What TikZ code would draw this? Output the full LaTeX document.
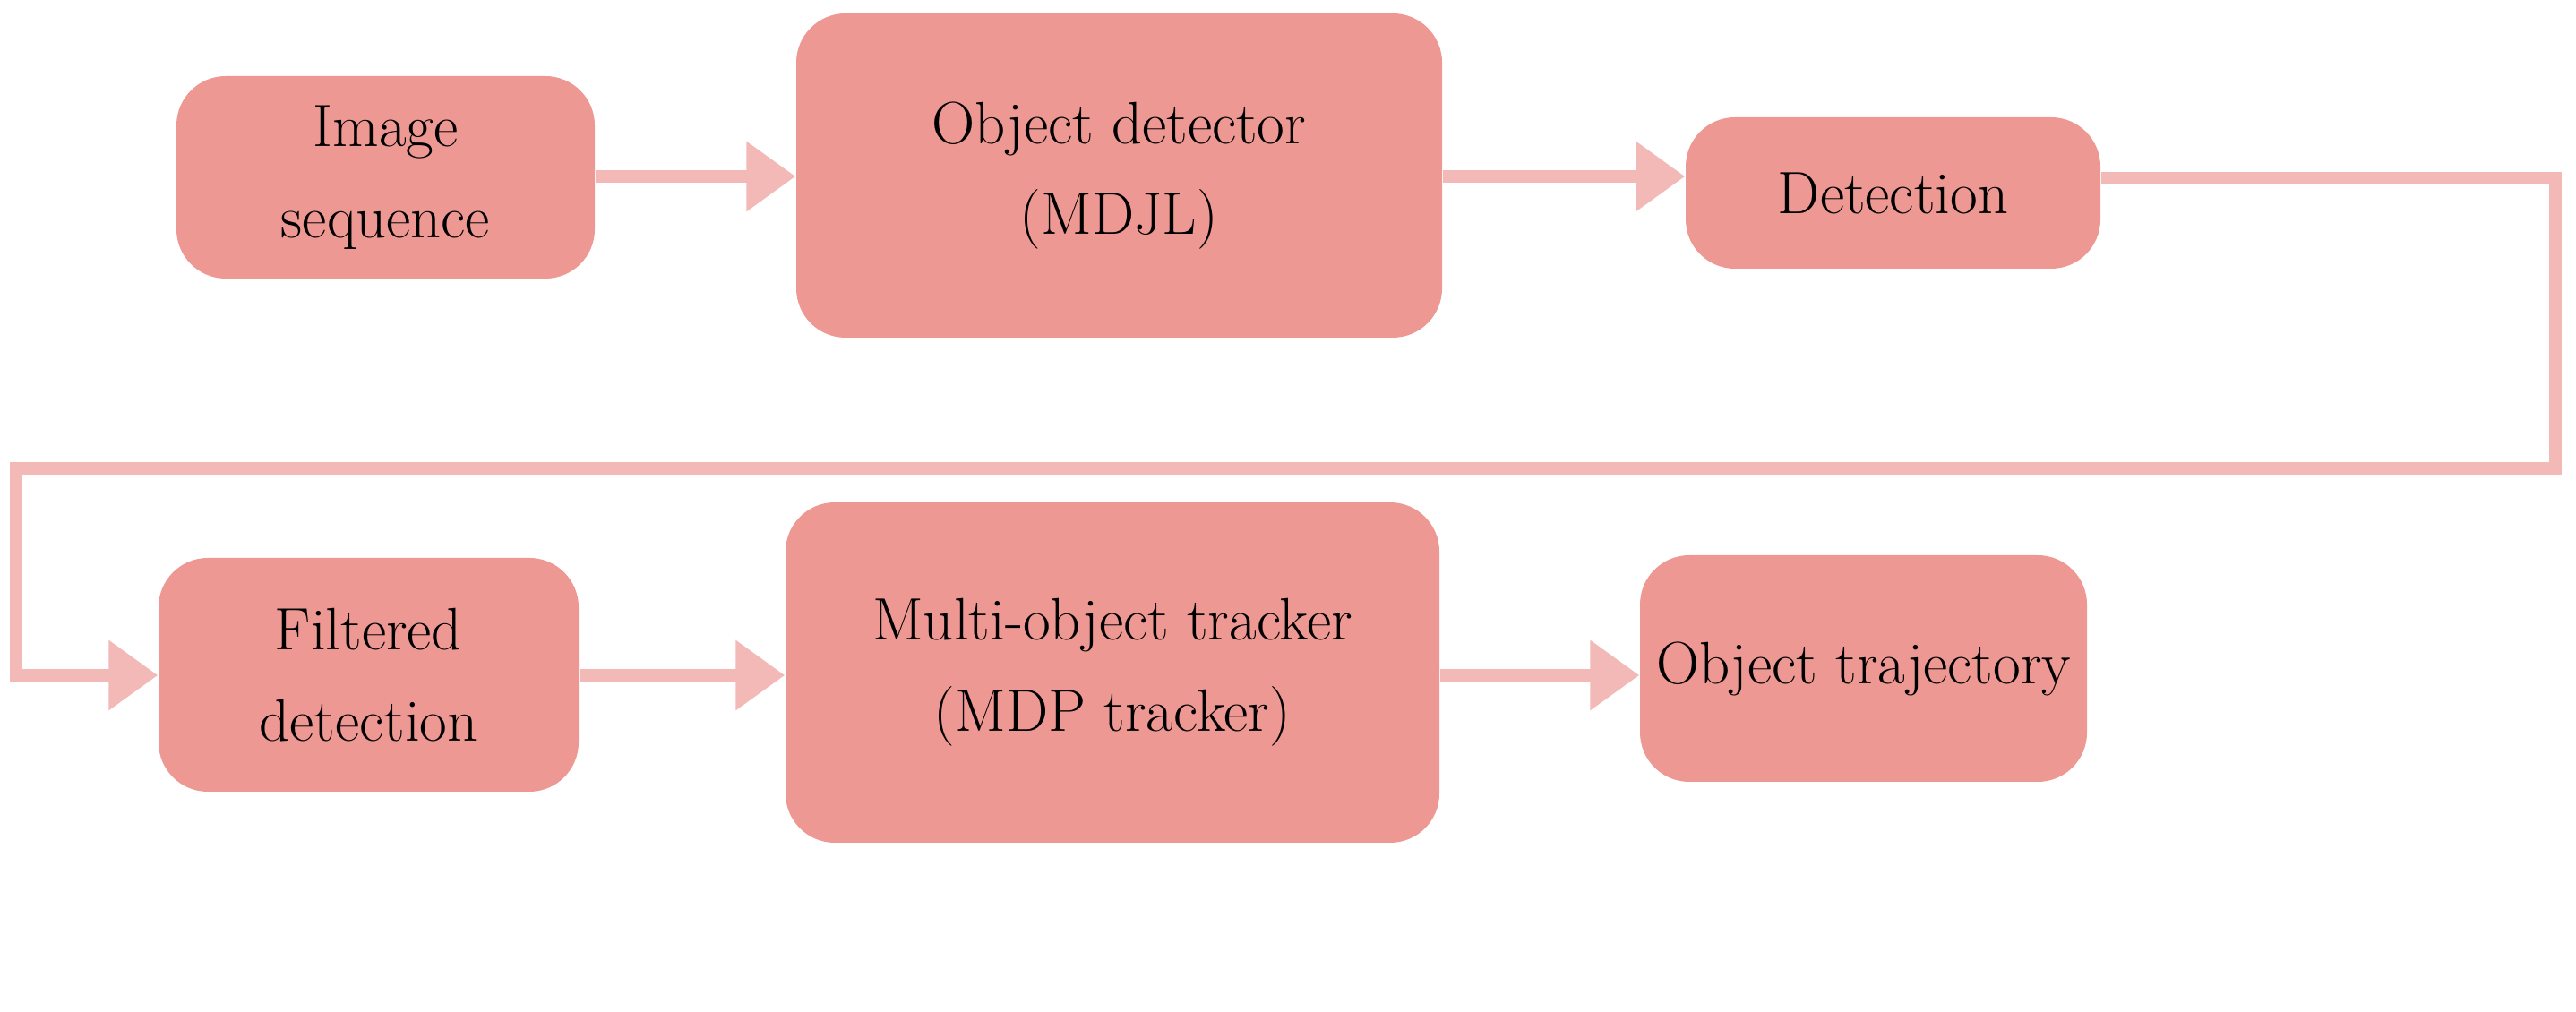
\documentclass[tikz,border=0pt]{standalone}
\usepackage{xcolor}
\usepackage{tikz}
\usetikzlibrary{calc}
\definecolor{boxfill}{HTML}{EE9893}
\definecolor{linkcol}{HTML}{F2B9B6}
\tikzset{
  stage/.style={fill=boxfill,rounded corners=0.55cm,align=center,inner sep=0pt,
    font=\fontsize{19}{29}\selectfont},
  link/.style={draw=linkcol,line width=3.8pt,-{Triangle[length=0.55cm,width=0.75cm]}}
}
\usetikzlibrary{arrows.meta}
\begin{document}
\begin{tikzpicture}
\useasboundingbox (0,0) rectangle (28.76,11.29);

\node[stage,minimum width=4.67cm,minimum height=2.26cm](img) at (4.305,9.31){Image\\sequence};
\node[stage,minimum width=7.21cm,minimum height=3.62cm](det) at (12.495,9.33){Object detector\\(MDJL)};
\node[stage,minimum width=4.63cm,minimum height=1.69cm](dtc) at (21.135,9.135){Detection};

\node[stage,minimum width=4.69cm,minimum height=2.61cm](flt) at (4.115,3.755){Filtered\\detection};
\node[stage,minimum width=7.30cm,minimum height=3.80cm](mot) at (12.42,3.78){Multi-object tracker\\(MDP tracker)};
\node[stage,minimum width=4.99cm,minimum height=2.53cm](trj) at (20.805,3.825){Object trajectory};

\coordinate (r1) at (28.53,9.3);
\coordinate (r2) at (28.53,6.06);
\coordinate (l1) at (0.18,6.06);

\draw[link](img.east |- 0,9.32)--(det.west |- 0,9.32);
\draw[link](det.east |- 0,9.32)--(dtc.west |- 0,9.32);
\draw[link,rounded corners=0pt](dtc.east |- r1)--(r1)--(r2)--(l1)|-(flt.west |- 0,3.75);
\draw[link](flt.east |- 0,3.75)--(mot.west |- 0,3.75);
\draw[link](mot.east |- 0,3.75)--(trj.west |- 0,3.75);

\end{tikzpicture}
\end{document}
